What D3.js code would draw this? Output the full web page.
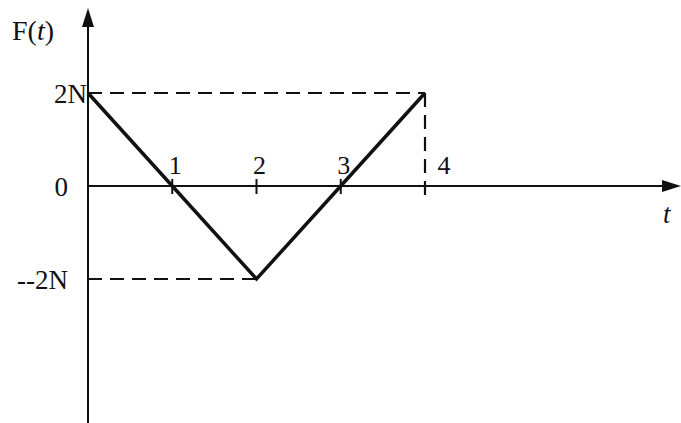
<!DOCTYPE html>
<html>
<head>
<meta charset="utf-8">
<script src="https://cdn.jsdelivr.net/npm/d3@7"></script>
<style>
  body { margin: 0; background: #fff; }
  text { font-family: "Liberation Serif", "Times New Roman", serif; fill: #111; }
</style>
</head>
<body>
<svg></svg>
<script>
// piecewise force F(t)
var times = [0, 1, 2, 3, 4];
var forces = [2, 0, -2, 0, 2];
var xTicks = [1, 2, 3, 4];
var yTicks = [2, 0, -2];
var yTickLabels = ['2N', '0', '--2N'];

var width = 681;
var height = 423;

var x = d3.scaleLinear().domain([0, 4]).range([88, 425]);
var y = d3.scaleLinear().domain([-2, 2]).range([279, 93]);

var svg = d3.select('svg')
    .attr('width', width)
    .attr('height', height)
    .attr('viewBox', '0 0 ' + width + ' ' + height);

var g = svg.append('g');

// axes
g.append('line')
    .attr('x1', x(0)).attr('x2', x(0))
    .attr('y1', 22).attr('y2', height)
    .attr('stroke', '#111').attr('stroke-width', 2);
g.append('path')
    .attr('d', 'M' + x(0) + ',8 L' + (x(0) - 6) + ',27 L' + (x(0) + 6) + ',27 Z')
    .attr('fill', '#111');

g.append('line')
    .attr('x1', x(0)).attr('x2', 668)
    .attr('y1', y(0)).attr('y2', y(0))
    .attr('stroke', '#111').attr('stroke-width', 2);
g.append('path')
    .attr('d', 'M681,' + y(0) + ' L662,' + (y(0) - 6) + ' L662,' + (y(0) + 6) + ' Z')
    .attr('fill', '#111');

// dashed guides
var dash = '14,8';
g.append('line')
    .attr('x1', x(0)).attr('x2', x(4))
    .attr('y1', y(2)).attr('y2', y(2))
    .attr('stroke', '#111').attr('stroke-width', 2.2)
    .attr('stroke-dasharray', dash);
g.append('line')
    .attr('x1', x(4)).attr('x2', x(4))
    .attr('y1', y(2)).attr('y2', y(0) + 12)
    .attr('stroke', '#111').attr('stroke-width', 2.2)
    .attr('stroke-dasharray', dash);
g.append('line')
    .attr('x1', x(0)).attr('x2', x(2))
    .attr('y1', y(-2)).attr('y2', y(-2))
    .attr('stroke', '#111').attr('stroke-width', 2.2)
    .attr('stroke-dasharray', dash);

// ticks on t axis
g.selectAll('.tick')
    .data(xTicks.slice(0, 3))
    .enter()
    .append('line')
    .attr('class', 'tick')
    .attr('x1', function (d) { return x(d); })
    .attr('x2', function (d) { return x(d); })
    .attr('y1', y(0) - 7)
    .attr('y2', y(0) + 8)
    .attr('stroke', '#111')
    .attr('stroke-width', 2);

g.selectAll('.xlab')
    .data(xTicks)
    .enter()
    .append('text')
    .attr('class', 'xlab')
    .attr('x', function (d) { return d === 4 ? x(d) + 19 : x(d) + 3; })
    .attr('y', y(0) - 12)
    .attr('text-anchor', 'middle')
    .style('font-size', '26px')
    .text(function (d) { return d; });

g.selectAll('.ylab')
    .data(yTicks)
    .enter()
    .append('text')
    .attr('class', 'ylab')
    .attr('x', function (d) { return d === 2 ? x(0) - 1 : 68; })
    .attr('y', function (d) { return y(d) + 10; })
    .attr('text-anchor', 'end')
    .style('font-size', '27px')
    .text(function (d, i) { return yTickLabels[i]; });

// axis titles
var ft = g.append('text')
    .attr('x', 12).attr('y', 40)
    .style('font-size', '28px');
ft.append('tspan').text('F(');
ft.append('tspan').style('font-style', 'italic').text('t');
ft.append('tspan').text(')');

g.append('text')
    .attr('x', 663).attr('y', 223)
    .style('font-size', '27px')
    .style('font-style', 'italic')
    .text('t');

// the force line
var line = d3.line()
    .x(function (d, i) { return x(times[i]); })
    .y(function (d) { return y(d); });

g.append('path')
    .datum(forces)
    .attr('d', line)
    .attr('fill', 'none')
    .attr('stroke', '#111')
    .attr('stroke-width', 3.5)
    .attr('stroke-linejoin', 'miter');
</script>
</body>
</html>
